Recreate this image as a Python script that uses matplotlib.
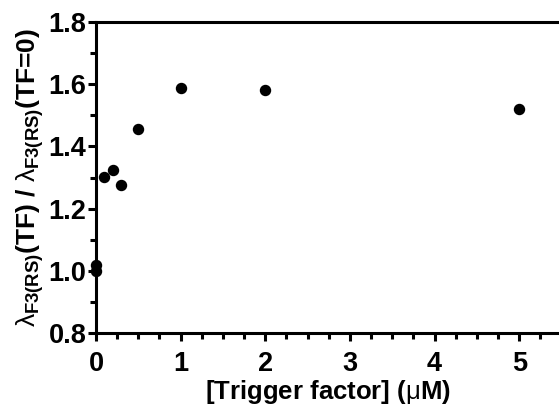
import matplotlib
matplotlib.use("Agg")
import matplotlib.pyplot as plt
from matplotlib.ticker import MultipleLocator

tf_conc = [0, 0, 0.1, 0.2, 0.3, 0.5, 1, 2, 5]
ratio = [1.00, 1.018, 1.303, 1.325, 1.276, 1.455, 1.589, 1.582, 1.522]

plt.rcParams['font.family'] = ['Liberation Sans', 'DejaVu Sans']
plt.rcParams['mathtext.fontset'] = 'custom'
plt.rcParams['mathtext.rm'] = 'Liberation Sans:bold'
plt.rcParams['mathtext.bf'] = 'Liberation Sans:bold'
plt.rcParams['mathtext.it'] = 'Liberation Sans'

fig = plt.figure(figsize=(5.59, 4.08), dpi=100)
ax = fig.add_axes([0.1717, 0.1846, 0.8283, 0.7607])

ax.scatter(tf_conc, ratio, s=52, color='black', zorder=3, clip_on=False)

ax.set_xlim(0, 5.47)
ax.set_ylim(0.8, 1.8)
ax.xaxis.set_major_locator(MultipleLocator(1))
ax.xaxis.set_minor_locator(MultipleLocator(0.25))
ax.yaxis.set_major_locator(MultipleLocator(0.2))
ax.yaxis.set_minor_locator(MultipleLocator(0.1))
ax.yaxis.set_major_formatter(plt.FuncFormatter(lambda v, p: f"{v:.1f}"))

for s in ['left', 'bottom', 'top']:
    ax.spines[s].set_linewidth(2.2)
ax.spines['right'].set_visible(False)

ax.tick_params(axis='both', which='major', length=6, width=2.2, labelsize=19.5)
ax.tick_params(axis='both', which='minor', length=4, width=2.2)
ax.tick_params(axis='y', which='major', pad=1)
ax.tick_params(axis='x', which='major', pad=7)
ax.tick_params(axis='x', which='both', top=False)
for lab in ax.get_xticklabels() + ax.get_yticklabels():
    lab.set_fontweight('bold')

ax.set_xlabel(r'[Trigger factor] ($\mu$M)', fontsize=18.5, fontweight='bold', labelpad=1)
ax.set_ylabel(r'$\lambda_{\mathrm{F3(RS)}}$(TF) / $\lambda_{\mathrm{F3(RS)}}$(TF=0)',
              fontsize=19, fontweight='bold', labelpad=2)

fig.savefig('out.png', dpi=100)
